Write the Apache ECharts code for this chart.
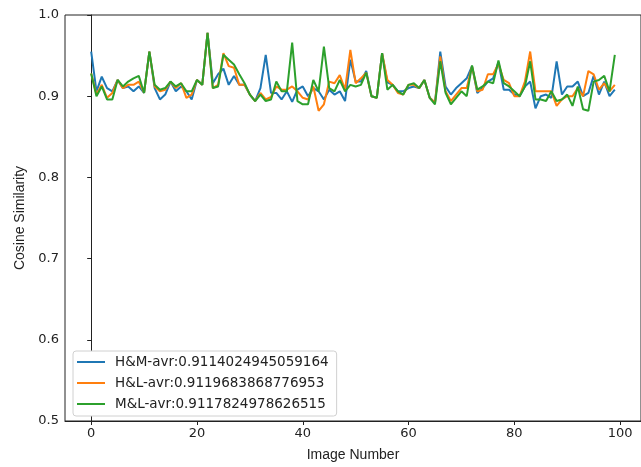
<!DOCTYPE html>
<html>
<head>
<meta charset="utf-8">
<script src="https://cdn.jsdelivr.net/npm/echarts@6/dist/echarts.min.js"></script>
<style>
  html, body { margin: 0; padding: 0; background: #fff; }
  #main { width: 641px; height: 467px; }
</style>
</head>
<body>
<div id="main"></div>
<script>
// values, index 0..99
var hmValues = [
  0.955, 0.906, 0.924, 0.910, 0.906, 0.920, 0.910, 0.912, 0.906, 0.912,
  0.904, 0.955, 0.910, 0.896, 0.902, 0.918, 0.906, 0.912, 0.906, 0.896,
  0.920, 0.914, 0.978, 0.916, 0.927, 0.934, 0.914, 0.925, 0.914, 0.914,
  0.902, 0.894, 0.910, 0.951, 0.904, 0.904, 0.896, 0.906, 0.893, 0.908,
  0.912, 0.900, 0.910, 0.906, 0.896, 0.908, 0.902, 0.906, 0.894, 0.945,
  0.918, 0.918, 0.931, 0.900, 0.898, 0.953, 0.917, 0.914, 0.906, 0.906,
  0.910, 0.912, 0.910, 0.920, 0.898, 0.892, 0.955, 0.912, 0.902, 0.910,
  0.916, 0.922, 0.937, 0.904, 0.910, 0.918, 0.922, 0.942, 0.908, 0.908,
  0.902, 0.900, 0.912, 0.918, 0.885, 0.900, 0.902, 0.898, 0.943, 0.902,
  0.912, 0.912, 0.918, 0.900, 0.904, 0.925, 0.902, 0.918, 0.900, 0.908
];
var hlValues = [
  0.928, 0.902, 0.914, 0.898, 0.904, 0.920, 0.910, 0.914, 0.914, 0.918,
  0.904, 0.955, 0.912, 0.906, 0.908, 0.918, 0.910, 0.916, 0.898, 0.902,
  0.920, 0.914, 0.978, 0.910, 0.914, 0.953, 0.937, 0.935, 0.914, 0.914,
  0.902, 0.894, 0.904, 0.896, 0.899, 0.912, 0.908, 0.908, 0.912, 0.906,
  0.898, 0.896, 0.912, 0.882, 0.890, 0.918, 0.916, 0.926, 0.908, 0.957,
  0.916, 0.922, 0.929, 0.900, 0.898, 0.953, 0.920, 0.914, 0.904, 0.902,
  0.914, 0.914, 0.910, 0.920, 0.898, 0.892, 0.949, 0.906, 0.894, 0.902,
  0.910, 0.910, 0.937, 0.906, 0.908, 0.927, 0.927, 0.940, 0.920, 0.916,
  0.900, 0.900, 0.918, 0.955, 0.906, 0.906, 0.906, 0.906, 0.888, 0.896,
  0.900, 0.900, 0.910, 0.900, 0.931, 0.927, 0.908, 0.916, 0.906, 0.914
];
var mlValues = [
  0.928, 0.900, 0.912, 0.896, 0.896, 0.920, 0.912, 0.918, 0.922, 0.925,
  0.904, 0.955, 0.914, 0.908, 0.910, 0.918, 0.912, 0.916, 0.906, 0.906,
  0.920, 0.914, 0.978, 0.910, 0.912, 0.951, 0.945, 0.939, 0.927, 0.916,
  0.902, 0.894, 0.902, 0.894, 0.896, 0.918, 0.906, 0.906, 0.966, 0.894,
  0.890, 0.890, 0.920, 0.906, 0.961, 0.910, 0.906, 0.920, 0.906, 0.914,
  0.912, 0.914, 0.929, 0.900, 0.898, 0.953, 0.908, 0.914, 0.906, 0.902,
  0.914, 0.916, 0.910, 0.920, 0.898, 0.890, 0.943, 0.904, 0.890, 0.898,
  0.906, 0.900, 0.938, 0.908, 0.912, 0.918, 0.916, 0.944, 0.916, 0.912,
  0.906, 0.900, 0.912, 0.943, 0.896, 0.896, 0.894, 0.906, 0.894, 0.896,
  0.902, 0.888, 0.912, 0.884, 0.882, 0.918, 0.920, 0.925, 0.906, 0.951
];
var seriesNames = [
  "H&M-avr:0.9114024945059164",
  "H&L-avr:0.9119683868776953",
  "M&L-avr:0.9117824978626515"
];
var xTicks = [0, 20, 40, 60, 80, 100];
var colors = ["#1f77b4", "#ff7f0e", "#2ca02c"];

function pairs(values) {
  return values.map(function (v, i) { return [i, v]; });
}

var myChart = echarts.init(document.getElementById("main"));
var allValues = [hmValues, hlValues, mlValues];

var option = {
  animation: false,
  color: colors,
  grid: {
    left: 65, top: 15, width: 582, height: 408,
    show: true, borderColor: "#222", borderWidth: 1
  },
  legend: {
    orient: "vertical",
    left: 73, top: 351,
    padding: [4, 8, 5, 4],
    icon: "rect",
    itemWidth: 28, itemHeight: 2, itemGap: 7,
    backgroundColor: "#fff",
    borderColor: "#d0d0d0", borderWidth: 1, borderRadius: 3,
    textStyle: {
      fontFamily: "DejaVu Sans", fontSize: 13.5, color: "#222",
      lineHeight: 13, padding: [0, 0, 0, 5]
    },
    data: seriesNames
  },
  xAxis: {
    type: "value",
    min: -4.95, max: 103.95,
    name: "Image Number",
    nameLocation: "middle",
    nameGap: 27,
    nameTextStyle: { fontFamily: "Liberation Sans", fontSize: 14, color: "#222" },
    splitLine: { show: false },
    axisLine: { show: true, onZero: false, lineStyle: { color: "#222" } },
    axisTick: { show: true, length: 4, customValues: xTicks, lineStyle: { color: "#222" } },
    axisLabel: { customValues: xTicks, fontFamily: "DejaVu Sans", fontSize: 13, color: "#222", margin: 6 }
  },
  yAxis: {
    type: "value",
    min: 0.5, max: 1.0, interval: 0.1,
    name: "Cosine Similarity",
    nameLocation: "middle",
    nameGap: 38,
    nameTextStyle: { fontFamily: "Liberation Sans", fontSize: 14, color: "#222" },
    splitLine: { show: false },
    axisLine: { show: true, lineStyle: { color: "#222" } },
    axisTick: { show: true, length: 4, lineStyle: { color: "#222" } },
    axisLabel: {
      fontFamily: "DejaVu Sans", fontSize: 13, color: "#222", margin: 6,
      formatter: function (v) { return v.toFixed(1); }
    }
  },
  series: seriesNames.map(function (name, k) {
    return {
      name: name,
      type: "line",
      symbol: "none",
      data: pairs(allValues[k]),
      lineStyle: { width: 2 }
    };
  })
};

myChart.setOption(option);
</script>
</body>
</html>
